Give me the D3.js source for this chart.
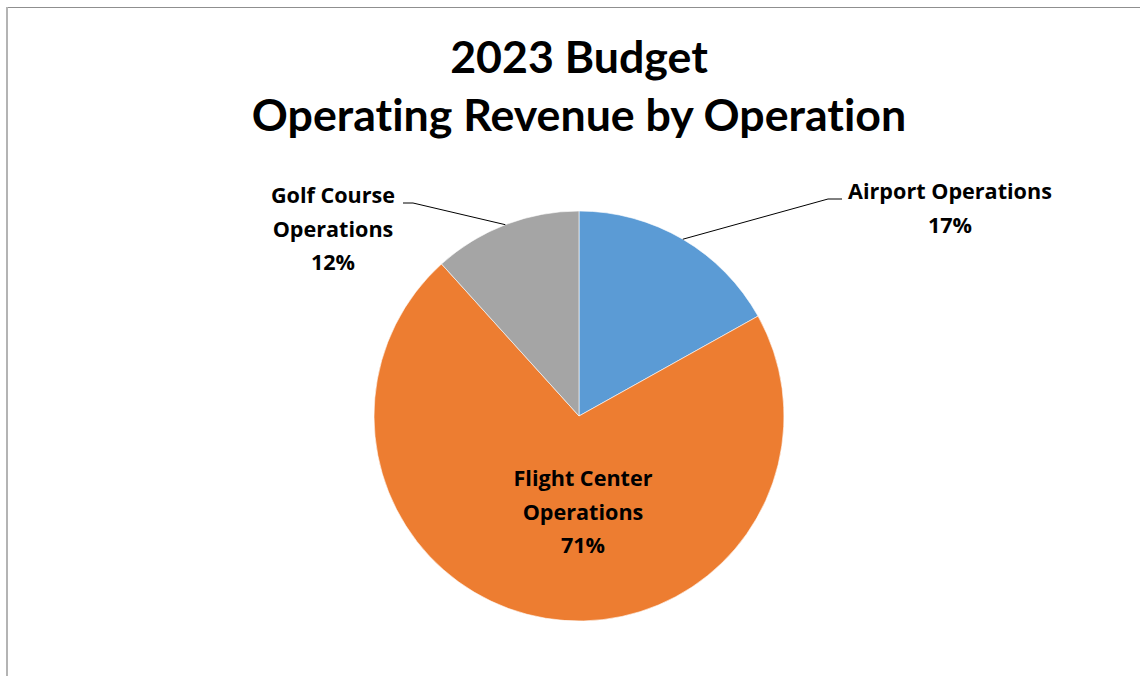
<!DOCTYPE html>
<html>
<head>
<meta charset="utf-8">
<script src="https://cdn.jsdelivr.net/npm/d3@7/dist/d3.min.js"></script>
<style>
  html, body { margin: 0; padding: 0; background: #fff; }
  svg { display: block; }
  text { font-weight: bold; fill: #000; font-variant-ligatures: none; font-feature-settings: "liga" 0; }
  .title { font-family: Lato, "Open Sans", sans-serif; }
  .label { font-family: "Open Sans", Lato, sans-serif; }
</style>
</head>
<body>
<svg id="chart" width="1140" height="676"></svg>
<script>
// Operating revenue shares by operation (percent of total)
const categories = ["Airport Operations", "Flight Center Operations", "Golf Course Operations"];
const shares = [16.9, 71.4, 11.7];
const colors = ["#5B9BD5", "#ED7D31", "#A5A5A5"];
const titleLines = ["2023 Budget", "Operating Revenue by Operation"];

const svg = d3.select("#chart");
const W = 1140, H = 676;
const cx = 579, cy = 416, R = 205;

// chart frame (top and left edges visible)
svg.append("line").attr("x1", 6).attr("x2", W).attr("y1", 7.5).attr("y2", 7.5)
  .attr("stroke", "#8f8f8f").attr("stroke-width", 1);
svg.append("line").attr("x1", 7).attr("x2", 7).attr("y1", 7).attr("y2", H)
  .attr("stroke", "#b4b4b4").attr("stroke-width", 2);

// title
const title = svg.append("text").attr("class", "title").attr("text-anchor", "middle").style("font-size", "44.7px");
titleLines.forEach((t, i) => {
  title.append("tspan").attr("x", cx).attr("y", 73 + i * 58).text(t);
});

const data = categories.map((c, i) => ({ name: c, value: shares[i], color: colors[i] }));

const pie = d3.pie().value(d => d.value).sort(null);
const arcs = pie(data);
const arc = d3.arc().innerRadius(0).outerRadius(R);

const g = svg.append("g").attr("transform", `translate(${cx},${cy})`);
g.selectAll("path.slice").data(arcs).join("path")
  .attr("class", "slice")
  .attr("d", arc)
  .attr("fill", d => d.data.color)
  .attr("stroke", "#fff")
  .attr("stroke-width", 0.6);

const pct = d => Math.round(d.data.value) + "%";
const mid = d => (d.startAngle + d.endAngle) / 2;
const onEdge = d => [Math.sin(mid(d)) * R, -Math.cos(mid(d)) * R];

// label layouts: lines of text and anchor positions (relative to pie centre)
const labelLayout = [
  { lines: ["Airport Operations"], x: 371, y: -217, elbow: [249, -217], tail: [263, -217] },
  { lines: ["Flight Center", "Operations"], x: 4, y: 70 },
  { lines: ["Golf Course", "Operations"], x: -246, y: -213, elbow: [-166, -213], tail: [-176, -213] }
];

const lineH = 33.5;
arcs.forEach((d, i) => {
  const L = labelLayout[i];
  const t = g.append("text").attr("class", "label").attr("text-anchor", "middle").style("font-size", "21.6px");
  const all = L.lines.concat([pct(d)]);
  all.forEach((s, k) => {
    t.append("tspan").attr("x", L.x).attr("y", L.y + k * lineH).text(s);
  });
  if (L.elbow) {
    const p = onEdge(d);
    g.append("polyline")
      .attr("points", [p, L.elbow, L.tail].map(q => q.join(",")).join(" "))
      .attr("fill", "none").attr("stroke", "#000").attr("stroke-width", 1);
  }
});
</script>
</body>
</html>
